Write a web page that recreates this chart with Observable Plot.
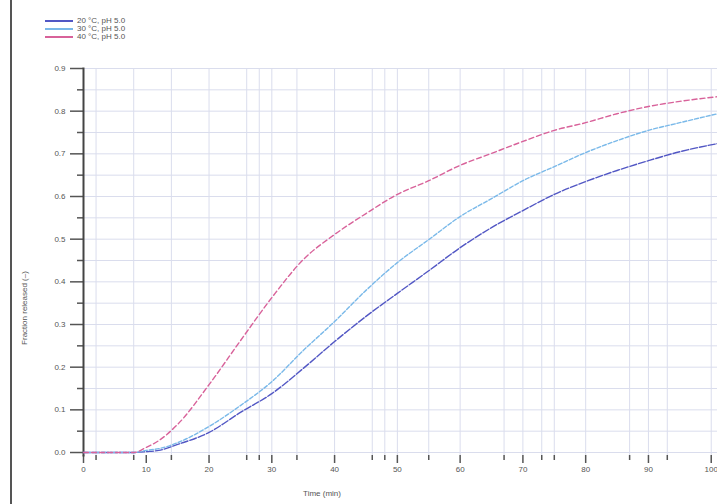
<!DOCTYPE html>
<html>
<head>
<meta charset="utf-8">
<script src="https://cdn.jsdelivr.net/npm/d3@7"></script>
<script src="https://cdn.jsdelivr.net/npm/@observablehq/plot@0.6"></script>
<style>
  html, body { margin: 0; padding: 0; background: #fff; }
  #wrap { position: relative; width: 717px; height: 504px; overflow: hidden; font-family: "Liberation Sans", Arial, sans-serif; }
  #wrap svg { position: absolute; left: 0; top: 0; }
  #page-edge { position: absolute; left: 10px; top: 0; width: 2px; height: 504px; background: #555; }
  #legend { position: absolute; left: 45px; top: 17px; font-size: 8px; color: #555; line-height: 8px; }
  #legend .row { display: flex; align-items: center; height: 8px; }
  #legend .sw { display: inline-block; width: 28px; height: 1.5px; margin-right: 4px; }
  #ytitle { position: absolute; left: 24px; top: 308px; transform: translate(-50%, -50%) rotate(-90deg); font-size: 8px; color: #555; white-space: nowrap; }
  #xtitle { position: absolute; left: 322px; top: 489px; transform: translateX(-50%); font-size: 8px; color: #555; white-space: nowrap; }
</style>
</head>
<body>
<div id="wrap">
  <div id="legend"></div>
  <div id="page-edge"></div>
  <div id="ytitle"></div>
  <div id="xtitle"></div>
</div>
<script>
// Release curves at three temperatures: time (min) vs. fraction released
const time = [0, 8, 10, 12, 15, 20, 25, 30, 35, 40, 45, 50, 55, 60, 65, 70, 75, 80, 85, 90, 95, 101];
const release20 = [0, 0, 0.002, 0.005, 0.019, 0.047, 0.094, 0.138, 0.197, 0.260, 0.319, 0.373, 0.426, 0.480, 0.527, 0.567, 0.605, 0.635, 0.661, 0.684, 0.705, 0.724];
const release30 = [0, 0, 0.005, 0.009, 0.023, 0.061, 0.110, 0.166, 0.239, 0.307, 0.380, 0.445, 0.499, 0.553, 0.595, 0.637, 0.670, 0.703, 0.731, 0.755, 0.773, 0.794];
const release40 = [0, 0, 0.012, 0.028, 0.066, 0.159, 0.262, 0.363, 0.452, 0.511, 0.560, 0.605, 0.637, 0.673, 0.701, 0.729, 0.755, 0.773, 0.794, 0.811, 0.823, 0.834];

const seriesNames = ["20 °C, pH 5.0", "30 °C, pH 5.0", "40 °C, pH 5.0"];
const seriesColors = ["#5257c4", "#7ab9e9", "#d8629a"];
const seriesDash = ["7,2", "4,2", "5,3"];

// axis ticks and grid positions
const xMajorTicks = [0, 10, 20, 30, 40, 50, 60, 70, 80, 90, 100];
const xMinorTicks = [2, 8, 14, 26, 28, 34, 46, 48, 55, 67, 73, 75, 87, 93];
const xGrid = [2, 8, 14, 20, 26, 28, 30, 34, 40, 46, 48, 50, 55, 60, 67, 70, 73, 75, 80, 87, 90, 93, 100];
const yMajorTicks = [0, 0.1, 0.2, 0.3, 0.4, 0.5, 0.6, 0.7, 0.8, 0.9];
const yMinorTicks = [0.05, 0.15, 0.25, 0.35, 0.45, 0.55, 0.65, 0.75, 0.85];
const yGrid = [0, 0.05, 0.1, 0.15, 0.2, 0.25, 0.3, 0.35, 0.4, 0.45, 0.5, 0.55, 0.6, 0.65, 0.7, 0.75, 0.8, 0.85, 0.9];

const xTitle = "Time (min)";
const yTitle = "Fraction released (–)";

const allSeries = [release20, release30, release40];
const rows = allSeries.flatMap((vals, s) =>
  vals.map((v, i) => ({ t: time[i], f: v, series: seriesNames[s] }))
);

const gridColor = "#dadded";
const axisColor = "#555";

const chart = Plot.plot({
  width: 717,
  height: 504,
  marginLeft: 83,
  marginRight: 0,
  marginTop: 68,
  marginBottom: 49,
  style: { fontFamily: "Liberation Sans, Arial, sans-serif", fontSize: "8px", color: "#555", background: "transparent" },
  x: { domain: [0, 101] },
  y: { domain: [-0.007, 0.9] },
  marks: [
    Plot.gridY(yGrid, { stroke: gridColor, strokeOpacity: 1, strokeWidth: 1 }),
    Plot.gridX(xGrid, { stroke: gridColor, strokeOpacity: 1, strokeWidth: 1 }),
    Plot.axisY(yMajorTicks, { tickSize: 13, tickPadding: 5, tickFormat: d3.format(".1f"), stroke: axisColor, strokeWidth: 1.5, label: null, fill: "#555" }),
    Plot.axisY(yMinorTicks, { tickSize: 6, tickFormat: null, text: null, stroke: axisColor, strokeWidth: 1.5, label: null }),
    Plot.axisX(xMajorTicks, { tickSize: 8, tickPadding: 3, stroke: axisColor, strokeWidth: 1.5, label: null, fill: "#555" }),
    Plot.axisX(xMinorTicks, { tickSize: 5, tickFormat: null, text: null, stroke: axisColor, strokeWidth: 1.5, label: null }),
    Plot.frame({ anchor: "left", stroke: "#444", strokeWidth: 2 }),
    ...seriesNames.map((name, s) =>
      Plot.line(rows.filter(d => d.series === name), {
        x: "t", y: "f",
        stroke: seriesColors[s],
        strokeWidth: 1.4,
        strokeDasharray: seriesDash[s],
        curve: "monotone-x"
      })
    )
  ]
});

const wrap = document.getElementById("wrap");
wrap.insertBefore(chart, wrap.firstChild);

// legend
const legend = document.getElementById("legend");
seriesNames.forEach((name, s) => {
  const row = document.createElement("div");
  row.className = "row";
  const sw = document.createElement("span");
  sw.className = "sw";
  sw.style.background = seriesColors[s];
  const label = document.createElement("span");
  label.textContent = name;
  row.appendChild(sw);
  row.appendChild(label);
  legend.appendChild(row);
});

document.getElementById("xtitle").textContent = xTitle;
document.getElementById("ytitle").textContent = yTitle;
</script>
</body>
</html>
